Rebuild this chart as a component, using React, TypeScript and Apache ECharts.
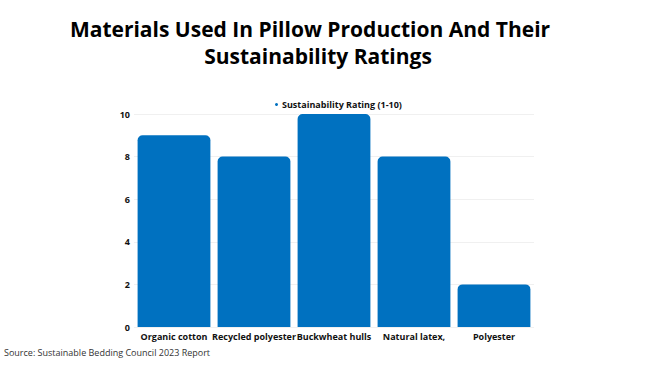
import React, { useEffect, useRef } from "react";
import * as echarts from "echarts";

const categories = ["Organic cotton", "Recycled polyester", "Buckwheat hulls", "Natural latex,", "Polyester"];
const ratings = [9, 8, 10, 8, 2];
const seriesName = "Sustainability Rating (1-10)";
const titleLine1 = "Materials Used In Pillow Production And Their";
const titleLine2 = "Sustainability Ratings";
const sourceText = "Source: Sustainable Bedding Council 2023 Report";

export default function App() {
  const ref = useRef<HTMLDivElement>(null);
  useEffect(() => {
    if (!ref.current) return;
    const chart = echarts.init(ref.current, null, { renderer: "svg" });
    const titleStyle = { fontSize: 21, fontWeight: 700, color: "#000", fontFamily: "Open Sans" };
    chart.setOption({
      animation: false,
      backgroundColor: "#ffffff",
      textStyle: { fontFamily: "Open Sans" },
      title: [
        { text: titleLine1, left: 310, textAlign: "center", top: 18, padding: 0, textStyle: titleStyle },
        { text: titleLine2, left: 318, textAlign: "center", top: 45, padding: 0, textStyle: titleStyle },
      ],
      legend: {
        top: 95,
        left: 270,
        itemWidth: 3,
        itemHeight: 3,
        itemGap: 2,
        icon: "circle",
        textStyle: { fontSize: 9, fontWeight: 700, color: "#111", padding: [0, 0, 0, -1] },
        data: [seriesName],
      },
      grid: { left: 134, right: 116, top: 114, bottom: 39 },
      xAxis: {
        type: "category",
        data: categories,
        axisLine: { show: false },
        axisTick: { show: false },
        axisLabel: { fontSize: 9, fontWeight: 700, color: "#111", margin: 5, interval: 0 },
      },
      yAxis: {
        type: "value",
        min: 0,
        max: 10,
        interval: 2,
        axisLine: { show: false },
        axisTick: { show: false },
        splitLine: { lineStyle: { color: "#f0f0f0", width: 1 } },
        axisLabel: { fontSize: 9, fontWeight: 700, color: "#111", margin: 4 },
      },
      series: [
        {
          name: seriesName,
          type: "bar",
          data: ratings,
          barCategoryGap: "9%",
          itemStyle: { color: "#0071C0", borderRadius: [5, 5, 0, 0] },
        },
      ],
      graphic: [
        {
          type: "text",
          left: 4,
          top: 348,
          style: { text: sourceText, fontSize: 9, fill: "#333", fontFamily: "Open Sans" },
        },
      ],
    });
    return () => chart.dispose();
  }, []);
  return <div ref={ref} style={{ width: 650, height: 366, position: "absolute", left: 0, top: 0 }} />;
}
